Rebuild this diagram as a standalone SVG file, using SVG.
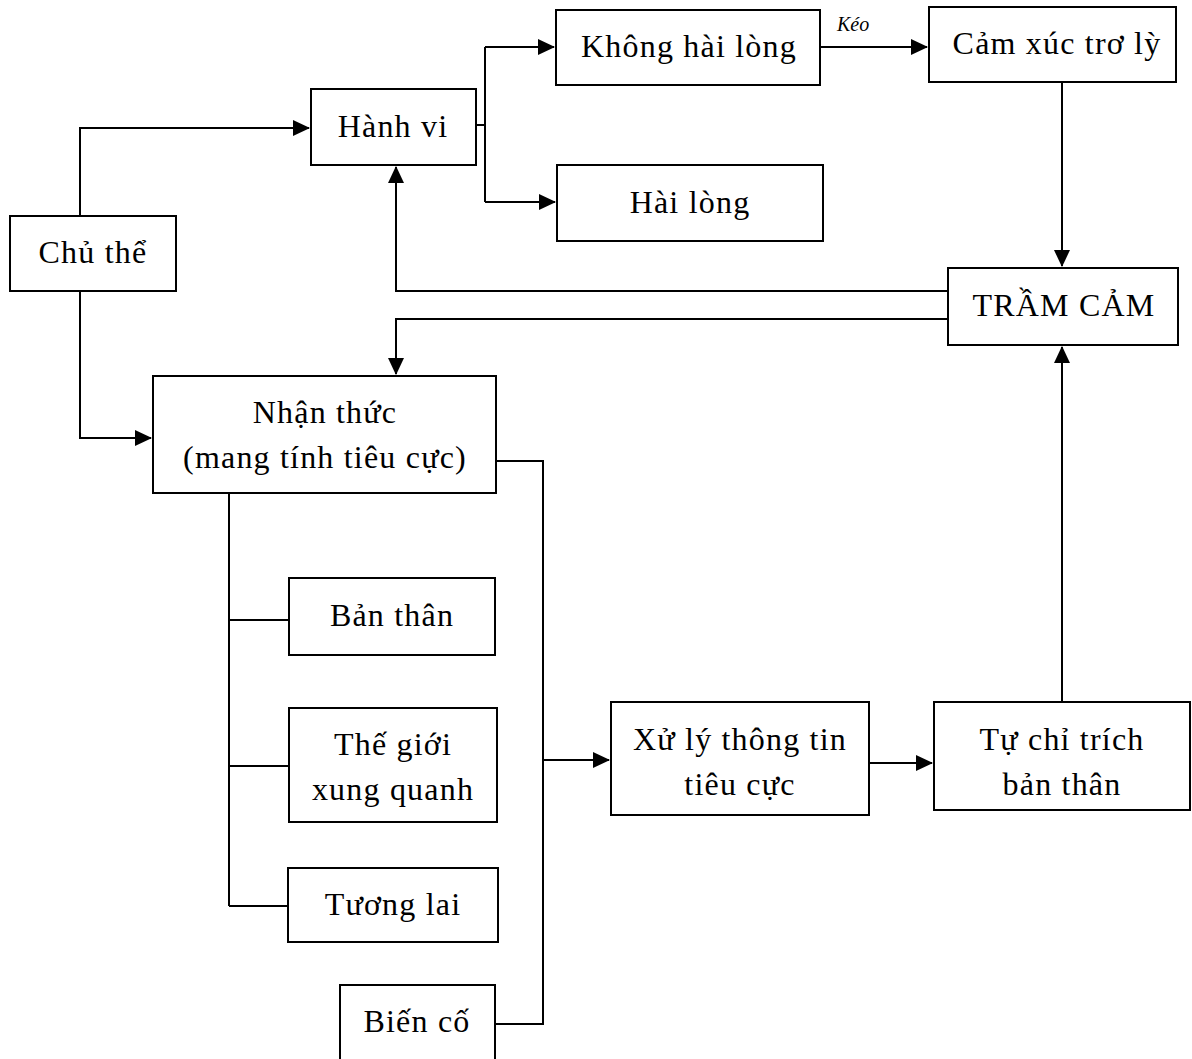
<svg xmlns="http://www.w3.org/2000/svg" width="1192" height="1059" viewBox="0 0 1192 1059">
<defs>
<marker id="arr" markerWidth="17" markerHeight="16" refX="16" refY="8" orient="auto" markerUnits="userSpaceOnUse">
<path d="M0,0 L17,8 L0,16 Z" fill="#000"/>
</marker>
<style>
.box{fill:#fff;stroke:#000;stroke-width:2}
.t{font-family:"Liberation Serif","Times New Roman",serif;font-size:32px;letter-spacing:1.2px;text-anchor:middle;fill:#000}
.c{fill:none;stroke:#000;stroke-width:2}
.lbl{font-family:"Liberation Serif","Times New Roman",serif;font-size:20px;font-style:italic;fill:#000}
</style>
</defs>
<rect width="1192" height="1059" fill="#fff"/>
<g id="connectors">
<polyline class="c" points="80,216 80,128 309,128" marker-end="url(#arr)"/>
<polyline class="c" points="80,291 80,438 151,438" marker-end="url(#arr)"/>
<polyline class="c" points="476,125 485,125"/>
<polyline class="c" points="485,47 485,202"/>
<polyline class="c" points="485,47 554,47" marker-end="url(#arr)"/>
<polyline class="c" points="485,202 555,202" marker-end="url(#arr)"/>
<polyline class="c" points="820,47 927,47" marker-end="url(#arr)"/>
<text class="lbl" x="837" y="31">Kéo</text>
<polyline class="c" points="1062,82 1062,266" marker-end="url(#arr)"/>
<polyline class="c" points="948,291 396,291 396,167" marker-end="url(#arr)"/>
<polyline class="c" points="948,319 396,319 396,374" marker-end="url(#arr)"/>
<polyline class="c" points="496,461 543,461 543,1024 495,1024"/>
<polyline class="c" points="543,760 609,760" marker-end="url(#arr)"/>
<polyline class="c" points="229,493 229,906"/>
<polyline class="c" points="229,620 289,620"/>
<polyline class="c" points="229,766 289,766"/>
<polyline class="c" points="229,906 288,906"/>
<polyline class="c" points="869,763 932,763" marker-end="url(#arr)"/>
<polyline class="c" points="1062,702 1062,347" marker-end="url(#arr)"/>
</g>
<g id="chu-the"><rect class="box" x="10" y="216" width="166" height="75"/><text class="t" x="93" y="263">Chủ thể</text></g>
<g id="hanh-vi"><rect class="box" x="311" y="89" width="165" height="76"/><text class="t" x="393" y="137">Hành vi</text></g>
<g id="khong-hai-long"><rect class="box" x="556" y="10" width="264" height="75"/><text class="t" x="689" y="57">Không hài lòng</text></g>
<g id="hai-long"><rect class="box" x="557" y="165" width="266" height="76"/><text class="t" x="690" y="213">Hài lòng</text></g>
<g id="cam-xuc"><rect class="box" x="929" y="7" width="247" height="75"/><text class="t" x="1057" y="54">Cảm xúc trơ lỳ</text></g>
<g id="tram-cam"><rect class="box" x="948" y="268" width="230" height="77"/><text class="t" x="1064" y="316">TRẦM CẢM</text></g>
<g id="nhan-thuc"><rect class="box" x="153" y="376" width="343" height="117"/><text class="t" x="325" y="423">Nhận thức</text><text class="t" x="325" y="468">(mang tính tiêu cực)</text></g>
<g id="ban-than"><rect class="box" x="289" y="578" width="206" height="77"/><text class="t" x="392" y="626">Bản thân</text></g>
<g id="the-gioi"><rect class="box" x="289" y="708" width="208" height="114"/><text class="t" x="393" y="755">Thế giới</text><text class="t" x="393" y="800">xung quanh</text></g>
<g id="tuong-lai"><rect class="box" x="288" y="868" width="210" height="74"/><text class="t" x="393" y="915">Tương lai</text></g>
<g id="bien-co"><rect class="box" x="340" y="985" width="155" height="90"/><text class="t" x="417" y="1032">Biến cố</text></g>
<g id="xu-ly"><rect class="box" x="611" y="702" width="258" height="113"/><text class="t" x="740" y="750">Xử lý thông tin</text><text class="t" x="740" y="795">tiêu cực</text></g>
<g id="tu-chi-trich"><rect class="box" x="934" y="702" width="256" height="108"/><text class="t" x="1062" y="750">Tự chỉ trích</text><text class="t" x="1062" y="795">bản thân</text></g>
</svg>
